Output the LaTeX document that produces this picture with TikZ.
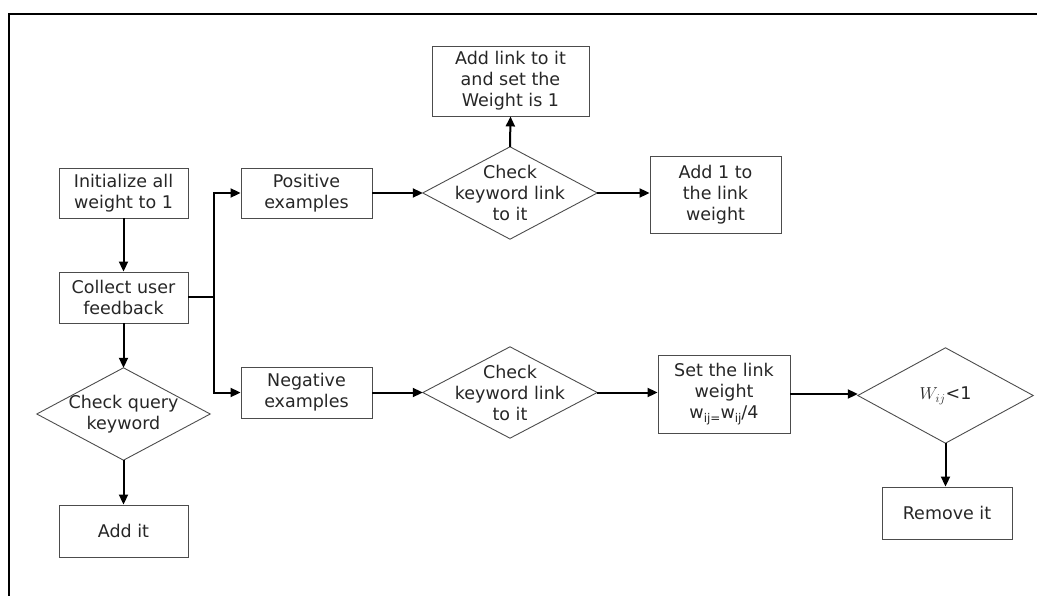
\documentclass[tikz,border=0pt]{standalone}
\usepackage{fontspec}
\setmainfont{DejaVu Sans}
\usetikzlibrary{arrows.meta}
\tikzset{
  box/.style={draw=black!70, line width=0.9pt, rectangle, inner sep=0pt, align=center, text=black!85, font=\fontsize{17.5}{21}\selectfont},
  decarea/.style={rectangle, inner sep=0pt, align=center, text=black!85, font=\fontsize{17.5}{21}\selectfont},
  decline/.style={draw=black!70, line width=0.9pt},
  arr/.style={line width=2pt, -{Triangle[length=10pt,width=9pt]}},
  ln/.style={line width=2pt}
}
\newcommand{\decdraw}[1]{\draw[decline] (#1.west) -- (#1.north) -- (#1.east) -- (#1.south) -- cycle;}
\begin{document}
\begin{tikzpicture}[x=1pt,y=-1pt]
\useasboundingbox (0,0) rectangle (1037,596);
% frame
\draw[line width=2pt] (9,596) -- (9,14) -- (1037,14);
% nodes
\node[box, minimum width=129pt, minimum height=50pt] (init) at (123.5,193) {Initialize all\\weight to 1};
\node[box, minimum width=129pt, minimum height=51pt] (collect) at (123.5,297.5) {Collect user\\feedback};
\node[decarea, minimum width=173pt, minimum height=92pt] (cq) at (123.5,414) {Check query\\keyword};
\node[box, minimum width=129pt, minimum height=52pt] (addit) at (123.5,531) {Add it};
\node[box, minimum width=131pt, minimum height=50pt] (pos) at (306.5,193) {Positive\\examples};
\node[box, minimum width=131pt, minimum height=51pt] (neg) at (306.5,392.5) {Negative\\examples};
\node[decarea, minimum width=174pt, minimum height=92pt] (ck1) at (510,193) {Check\\keyword link\\to it};
\node[decarea, minimum width=174pt, minimum height=91pt] (ck2) at (510,392.5) {Check\\keyword link\\to it};
\node[box, minimum width=157pt, minimum height=70pt] (addlink) at (510.5,81) {Add link to it\\and set the\\Weight is 1};
\node[box, minimum width=131pt, minimum height=77pt] (add1) at (715.5,194.5) {Add 1 to\\the link\\weight};
\node[box, minimum width=132pt, minimum height=78pt] (setw) at (724,394) {Set the link\\weight\\w\raisebox{-4pt}{\fontsize{12}{12}\selectfont ij=}w\raisebox{-4pt}{\fontsize{12}{12}\selectfont ij}/4};
\node[decarea, minimum width=175pt, minimum height=95pt] (wd) at (945.5,395.5) {$W_{ij}$<1};
\node[box, minimum width=130pt, minimum height=52pt] (rem) at (947,513) {Remove it};
\decdraw{cq}
\decdraw{ck1}
\decdraw{ck2}
\decdraw{wd}
\coordinate (br) at (214,297.5);
% connectors
\draw[arr] (init) -- (collect);
\draw[arr] (collect.south) -- (cq.north);
\draw[arr] (cq.south) -- (addit.north);
\draw[ln] (collect.east) -- (br);
\draw[arr] (br) |- (pos.west);
\draw[arr] (br) |- (neg.west);
\draw[arr] (pos.east) -- (ck1.west);
\draw[arr] (ck1.north) -- (addlink.south);
\draw[arr] (ck1.east) -- (add1.west |- ck1.east);
\draw[arr] (neg.east) -- (ck2.west);
\draw[arr] (ck2.east) -- (setw.west |- ck2.east);
\draw[arr] (setw.east) -- (wd.west |- setw.east);
\draw[arr] (wd.south) -- (wd.south |- rem.north);
\end{tikzpicture}
\end{document}
